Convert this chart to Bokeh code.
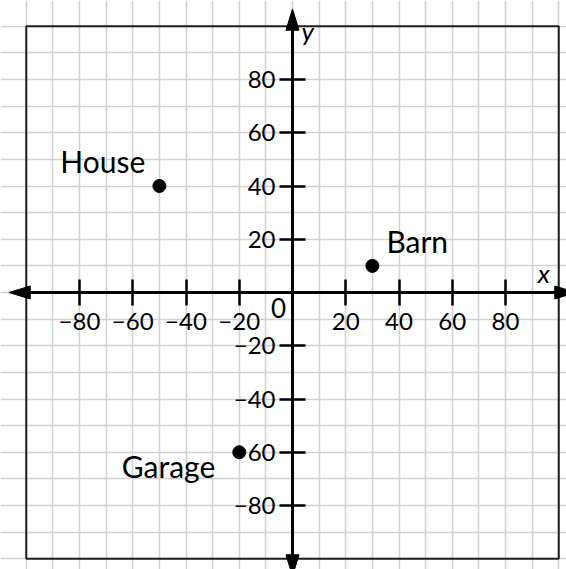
from bokeh.plotting import figure
from bokeh.models import ColumnDataSource, FixedTicker, Range1d
from bokeh.core.properties import value
from bokeh.embed import file_html
from bokeh.resources import INLINE

# ---- data ----
place_names = ["House", "Barn", "Garage"]
place_x = [-50, 30, -20]
place_y = [40, 10, -60]

x_ticks = [-80, -60, -40, -20, 20, 40, 60, 80]
y_ticks = [-80, -60, -40, -20, 20, 40, 60, 80]
x_tick_labels = ["\u221280", "\u221260", "\u221240", "\u221220", "20", "40", "60", "80"]
y_tick_labels = ["\u221280", "\u221260", "\u221240", "\u221220", "20", "40", "60", "80"]
grid_ticks = [-100, -90, -80, -70, -60, -50, -40, -30, -20, -10, 0,
              10, 20, 30, 40, 50, 60, 70, 80, 90, 100]
axis_min, axis_max = -100, 100

# ---- layout / style ----
W, H = 566, 569
S = 2.6625          # pixels per unit
ox, oy = 292, 292   # origin in canvas pixels
FONT = "Lato"
SHIFT = -12         # baseline correction for text glyphs (px)

p = figure(width=W, height=H, output_backend="svg", toolbar_location=None,
           x_range=Range1d(-ox / S, (W - ox) / S),
           y_range=Range1d(-(H - oy) / S, oy / S),
           min_border=0, outline_line_color=None,
           background_fill_color="white", border_fill_color="white")

# grid
for g in (p.xgrid[0], p.ygrid[0]):
    g.ticker = FixedTicker(ticks=grid_ticks)
    g.bounds = (axis_min, axis_max)
    g.grid_line_color = "#d2d2d2"
    g.grid_line_width = 1.6

# outer box
p.quad(left=[axis_min], right=[axis_max], bottom=[axis_min], top=[axis_max],
       fill_color=None, line_color="#231f20", line_width=2)

# axes through the origin
xa = p.xaxis[0]
ya = p.yaxis[0]
for ax, ticks, labels in ((xa, x_ticks, x_tick_labels), (ya, y_ticks, y_tick_labels)):
    ax.fixed_location = 0
    ax.ticker = FixedTicker(ticks=ticks)
    ax.major_label_overrides = {float(t): l for t, l in zip(ticks, labels)}
    ax.bounds = (-99, 99)
    ax.axis_line_color = "black"
    ax.axis_line_width = 3
    ax.major_tick_line_color = "black"
    ax.major_tick_line_width = 2.5
    ax.major_tick_in = 13
    ax.major_tick_out = 13
    ax.minor_tick_line_color = None
    ax.major_label_text_font = FONT
    ax.major_label_text_font_size = "24px"
    ax.major_label_text_color = "black"
xa.major_label_standoff = 7
ya.major_label_standoff = 4

# arrowheads
tip, base, hw = 106.5, 98.5, 2.45
p.patches(xs=[[-tip, -base, -base], [tip, base, base], [-hw, hw, 0], [-hw, hw, 0]],
          ys=[[0, hw, -hw], [0, hw, -hw], [base, base, tip], [-base, -base, -tip]],
          fill_color="black", line_color="black", line_width=1)

# axis names and origin label
p.text(x=[axis_max], y=[0], text=["x"], text_font=value(FONT), text_font_style="italic",
       text_font_size="26px", text_align="right", text_baseline="alphabetic",
       x_offset=-9, y_offset=-8 + SHIFT, text_color="black")
p.text(x=[0], y=[axis_max], text=["y"], text_font=value(FONT), text_font_style="italic",
       text_font_size="26px", text_align="left", text_baseline="alphabetic",
       x_offset=9, y_offset=17 + SHIFT, text_color="black")
p.text(x=[0], y=[0], text=["0"], text_font=value(FONT), text_font_size="26px",
       text_align="center", text_baseline="alphabetic",
       x_offset=-14, y_offset=27 + SHIFT, text_color="black")

# points and labels
src = ColumnDataSource(dict(x=place_x, y=place_y, name=place_names,
                            dx=[-14, 14, -24],
                            dy=[-13 + SHIFT, -13 + SHIFT, 26 + SHIFT],
                            align=["right", "left", "right"]))
p.scatter(x="x", y="y", source=src, size=13, color="black")
p.text(x="x", y="y", text="name", source=src, x_offset="dx", y_offset="dy",
       text_align="align", text_baseline="alphabetic",
       text_font=value(FONT), text_font_size="30px", text_color="black")

open("out.html", "w").write(file_html(p, INLINE))
